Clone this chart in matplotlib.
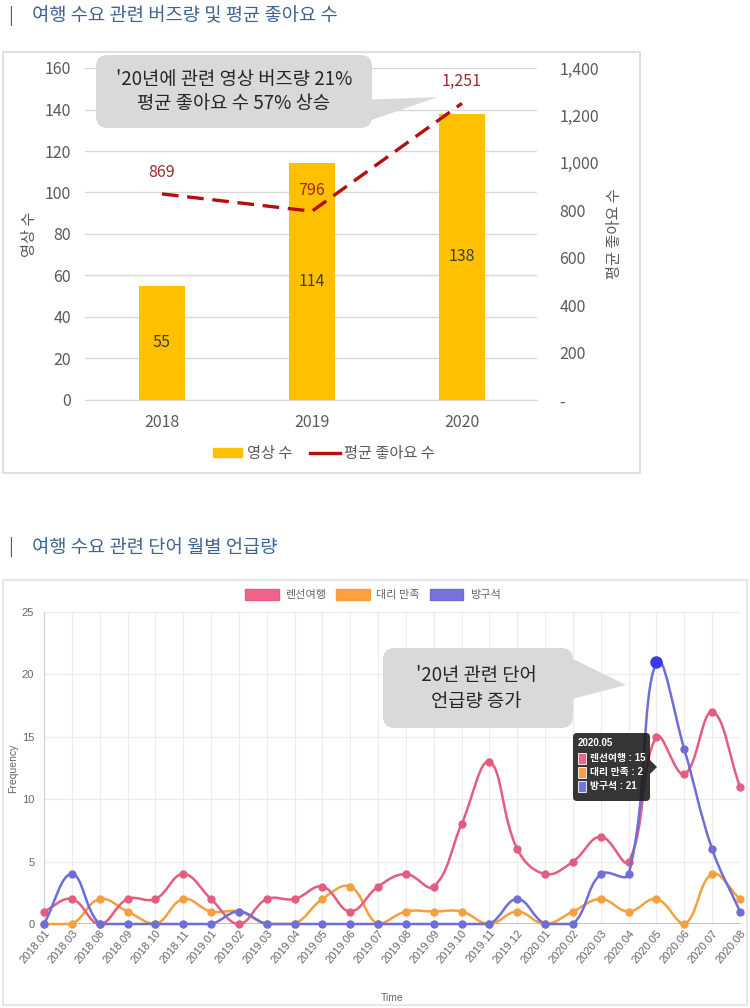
import numpy as np
import matplotlib
matplotlib.use("Agg")
import matplotlib.pyplot as plt
from matplotlib.path import Path
from matplotlib.patches import PathPatch, Patch, FancyBboxPatch, Polygon, Rectangle
from matplotlib.lines import Line2D
from matplotlib.ticker import FuncFormatter, MultipleLocator

KR = ['Noto Sans CJK KR', 'DejaVu Sans']
SANS = ['Liberation Sans', 'Noto Sans CJK KR', 'DejaVu Sans']
plt.rcParams['font.family'] = KR

# ---------------- data ----------------
title_top = "여행 수요 관련 버즈량 및 평균 좋아요 수"
title_bottom = "여행 수요 관련 단어 월별 언급량"

years = ["2018", "2019", "2020"]
video_counts = [55, 114, 138]
avg_likes = [869, 796, 1251]

months = ["2018.01", "2018.03", "2018.08", "2018.09", "2018.10", "2018.11",
          "2019.01", "2019.02", "2019.03", "2019.04", "2019.05", "2019.06",
          "2019.07", "2019.08", "2019.09", "2019.10", "2019.11", "2019.12",
          "2020.01", "2020.02", "2020.03", "2020.04", "2020.05", "2020.06",
          "2020.07", "2020.08"]
series_names = ["렌선여행", "대리 만족", "방구석"]
lensun = [1, 2, 0, 2, 2, 4, 2, 0, 2, 2, 3, 1, 3, 4, 3, 8, 13, 6, 4, 5, 7, 5, 15, 12, 17, 11]
daeri = [0, 0, 2, 1, 0, 2, 1, 1, 0, 0, 2, 3, 0, 1, 1, 1, 0, 1, 0, 1, 2, 1, 2, 0, 4, 2]
bangguseok = [0, 4, 0, 0, 0, 0, 0, 1, 0, 0, 0, 0, 0, 0, 0, 0, 0, 2, 0, 0, 4, 4, 21, 14, 6, 1]
highlight_month = "2020.05"

W, H = 750, 1008
fig = plt.figure(figsize=(W / 100, H / 100), dpi=100)


def px_rect(l, t, r, b):
    return [l / W, 1 - b / H, (r - l) / W, (b - t) / H]


# overlay axes in pixel coordinates for frames / callouts
ov = fig.add_axes([0, 0, 1, 1], zorder=5)
ov.set_xlim(0, W)
ov.set_ylim(H, 0)
ov.axis('off')
ov.patch.set_alpha(0)

bg = fig.add_axes([0, 0, 1, 1], zorder=-5)
bg.set_xlim(0, W)
bg.set_ylim(H, 0)
bg.axis('off')

title_color = '#3f6391'
# ---------------- titles & frames ----------------
bg.text(8, 16, "|", color=title_color, fontsize=13, va='center', ha='left')
bg.text(32, 16, title_top, color=title_color, fontsize=13.5, va='center', ha='left')
bg.text(8, 547, "|", color=title_color, fontsize=13, va='center', ha='left')
bg.text(32, 547, title_bottom, color=title_color, fontsize=13.5, va='center', ha='left')
bg.add_patch(Rectangle((3, 52), 637, 421, fill=False, ec='#d9d9d9', lw=1.2))
bg.add_patch(Rectangle((3, 580), 744, 425, fill=False, ec='#e3e3e3', lw=1.2))

# ---------------- top chart ----------------
ax1 = fig.add_axes(px_rect(85, 68, 537, 400))
x = np.arange(len(years))
ax1.bar(x, video_counts, width=0.31, color='#ffc000', zorder=2)
ax1.set_xlim(-0.513, 2.5)
ax1.set_ylim(0, 160)
ax1.yaxis.set_major_locator(MultipleLocator(20))
ax1.grid(axis='y', color='#d9d9d9', lw=1, zorder=0)
ax1.set_axisbelow(True)
for s in ax1.spines.values():
    s.set_visible(False)
ax1.spines['bottom'].set_visible(True)
ax1.spines['bottom'].set_color('#d9d9d9')
ax1.set_xticks(x)
ax1.set_xticklabels(years)
ax1.tick_params(axis='both', length=0, labelsize=11.5, colors='#595959')
ax1.tick_params(axis='y', pad=10)
ax1.tick_params(axis='x', pad=10)
ax1.set_ylabel("영상 수", color='#595959', fontsize=11)
ax1.yaxis.set_label_coords((38 - 85) / 452, 0.5)
for xi, v in zip(x, video_counts):
    ax1.text(xi, v / 2, str(v), ha='center', va='center', fontsize=11.5, color='#404040', zorder=3)

ax2 = ax1.twinx()
ax2.set_ylim(0, 1400)
ax2.yaxis.set_major_locator(MultipleLocator(200))
ax2.yaxis.set_major_formatter(FuncFormatter(lambda v, p: "-" if v == 0 else f"{int(v):,}"))
for s in ax2.spines.values():
    s.set_visible(False)
ax2.tick_params(axis='y', length=0, labelsize=11.5, colors='#595959', pad=16)
ax2.set_ylabel("평균 좋아요 수", color='#595959', fontsize=11, rotation=90)
ax2.yaxis.set_label_coords((606 - 85) / 452, 0.5)
line_color = '#b30f0f'
ax2.plot(x, avg_likes, color=line_color, lw=2.4, dashes=(5, 2.6), zorder=4)
offsets = [(0, 21), (0, 21), (0, 22)]
for xi, v, (dx, dy) in zip(x, avg_likes, offsets):
    ax2.annotate(f"{v:,}", (xi, v), xytext=(dx, dy), textcoords='offset pixels',
                 ha='center', va='center', fontsize=11.5, color='#9c2a2a')
ax2.set_xlim(-0.513, 2.5)

ax1.legend(handles=[Patch(color='#ffc000', label='영상 수'),
                    Line2D([0], [0], color=line_color, lw=2.4, label='평균 좋아요 수')],
           loc='center', bbox_to_anchor=((324 - 85) / 452, -0.16), ncol=2, frameon=False,
           fontsize=11, labelcolor='#595959', handlelength=1.9, handleheight=0.5,
           handletextpad=0.3, columnspacing=1.2)

# callout (top)
ov.add_patch(FancyBboxPatch((96, 55), 276, 73, boxstyle="round,pad=0,rounding_size=12",
                            fc='#d9d9d9', ec='none'))
ov.add_patch(Polygon([(360, 100), (360, 124), (438, 97)], closed=True, fc='#d9d9d9', ec='none'))
ov.text(234, 80, "'20년에 관련 영상 버즈량 21%", ha='center', va='center', fontsize=13.5, color='#262626')
ov.text(234, 104, "평균 좋아요 수 57% 상승", ha='center', va='center', fontsize=13.5, color='#262626')

# ---------------- bottom chart ----------------
ax3 = fig.add_axes(px_rect(44, 612, 740, 924))
n = len(months)
xm = np.arange(n)
ax3.set_xlim(0, n - 1)
ax3.set_ylim(0, 25)
sx = 696 / (n - 1)
sy = 312 / 25.0


def spline_path(xs, ys, t=0.4):
    px = np.asarray(xs, float) * sx
    py = np.asarray(ys, float) * sy
    m = len(px)
    cpp = np.zeros((m, 2))
    cpn = np.zeros((m, 2))
    for i in range(m):
        ip = max(i - 1, 0)
        inx = min(i + 1, m - 1)
        d01 = np.hypot(px[i] - px[ip], py[i] - py[ip])
        d12 = np.hypot(px[inx] - px[i], py[inx] - py[i])
        tot = d01 + d12
        s01 = d01 / tot if tot else 0
        s12 = d12 / tot if tot else 0
        fa, fb = t * s01, t * s12
        cpp[i] = (px[i] - fa * (px[inx] - px[ip]), py[i] - fa * (py[inx] - py[ip]))
        cpn[i] = (px[i] + fb * (px[inx] - px[ip]), py[i] + fb * (py[inx] - py[ip]))
    cpp[:, 1] = np.clip(cpp[:, 1], 0, 25 * sy)
    cpn[:, 1] = np.clip(cpn[:, 1], 0, 25 * sy)
    verts = [(px[0], py[0])]
    codes = [Path.MOVETO]
    for i in range(m - 1):
        verts += [tuple(cpn[i]), tuple(cpp[i + 1]), (px[i + 1], py[i + 1])]
        codes += [Path.CURVE4] * 3
    verts = np.array(verts)
    verts[:, 0] /= sx
    verts[:, 1] /= sy
    return Path(verts, codes)


colors = ['#e35d80', '#f4a040', '#6e6ed6']
legend_colors = ['#f2628a', '#ffa040', '#7474dc']
all_series = [lensun, daeri, bangguseok]
zorders = [4, 3, 5]
for vals, c, z in zip(all_series, colors, zorders):
    ax3.add_patch(PathPatch(spline_path(xm, vals), fc='none', ec=c, lw=1.8, zorder=z, clip_on=False))
    ax3.plot(xm, vals, 'o', color=c, ms=5, zorder=z, clip_on=False)

hi = months.index(highlight_month)
ax3.plot([hi], [bangguseok[hi]], 'o', color='#3a3ae0', ms=8, zorder=6, clip_on=False)

ax3.set_xticks(xm)
ax3.set_xticklabels(months, rotation=50, ha='right', rotation_mode='anchor',
                    fontsize=8, color='#666666', family=SANS)
ax3.yaxis.set_major_locator(MultipleLocator(5))
for lab in ax3.get_yticklabels():
    lab.set_family(SANS)
ax3.tick_params(axis='y', labelsize=8, colors='#666666', length=0, pad=7)
ax3.tick_params(axis='x', length=0, pad=3)
ax3.grid(True, color='#ebebeb', lw=0.8, zorder=0)
ax3.set_axisbelow(True)
for s in ax3.spines.values():
    s.set_visible(False)
ax3.spines['left'].set_visible(True)
ax3.spines['left'].set_color('#d0d0d0')
ax3.axhline(0, color='#b5b5b5', lw=1.2, zorder=1)
ax3.set_ylabel("Frequency", fontsize=7.5, color='#666666', family=SANS)
ax3.yaxis.set_label_coords((18 - 44) / 696, 0.5)
ax3.set_xlabel("Time", fontsize=7.5, color='#666666', family=SANS)
ax3.xaxis.set_label_coords((392 - 44) / 696, -(993 - 924) / 312)

ax3.legend(handles=[Patch(fc=lc, ec=c, lw=1, label=nm) for nm, c, lc in zip(series_names, colors, legend_colors)],
           loc='center', bbox_to_anchor=((373 - 44) / 696, 1.055), ncol=3, frameon=False,
           fontsize=8, labelcolor='#666666', handlelength=3.0, handleheight=1.15,
           handletextpad=0.6, columnspacing=0.9)

# callout (bottom)
ov.add_patch(FancyBboxPatch((383, 648), 190, 80, boxstyle="round,pad=0,rounding_size=12",
                            fc='#d9d9d9', ec='none'))
ov.add_patch(Polygon([(565, 655), (568, 700), (626, 685)], closed=True, fc='#d9d9d9', ec='none'))
ov.text(476, 676, "'20년 관련 단어", ha='center', va='center', fontsize=13.5, color='#262626')
ov.text(476, 702, "언급량 증가", ha='center', va='center', fontsize=13.5, color='#262626')

# tooltip
ov.add_patch(FancyBboxPatch((573, 733), 77, 68, boxstyle="round,pad=0,rounding_size=4",
                            fc='#1a1a1a', ec='none', alpha=0.88))
ov.add_patch(Polygon([(650, 760), (657, 767), (650, 774)], closed=True, fc='#1a1a1a', ec='none', alpha=0.88))
ov.text(578, 743, highlight_month, ha='left', va='center', fontsize=7, color='white',
        fontweight='bold', family=SANS)
for k, (nm, vals, lc) in enumerate(zip(series_names, all_series, legend_colors)):
    yy = 758 + k * 14
    ov.add_patch(Rectangle((578, yy - 5.5), 8, 11, fc=lc, ec='white', lw=0.6))
    ov.text(590, yy, f"{nm} : {vals[hi]}", ha='left', va='center', fontsize=7,
            color='white', fontweight='bold', family=SANS)

fig.savefig("out.png", dpi=100)
